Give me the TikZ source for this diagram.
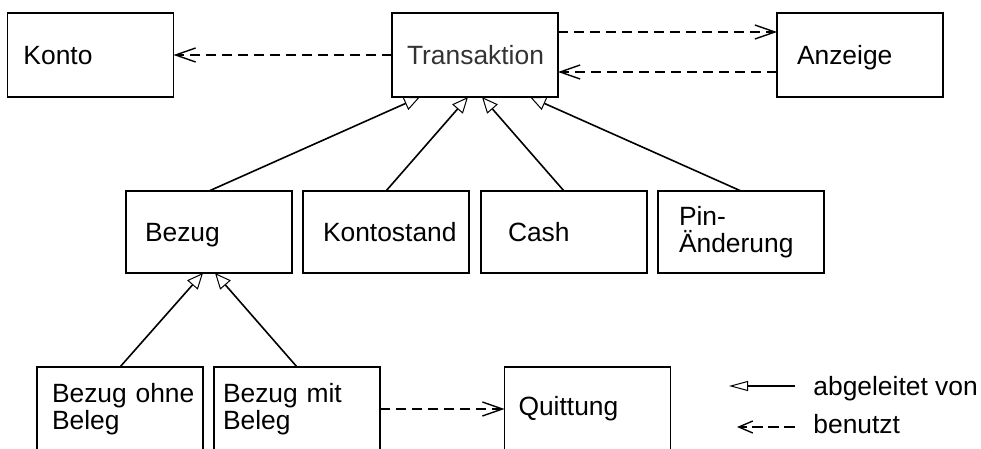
\documentclass[tikz,border=0pt]{standalone}
\usepackage{fontspec}
\setmainfont{Liberation Sans}
\usetikzlibrary{arrows.meta,calc}
\begin{document}
\begin{tikzpicture}[x=0.5pt,y=-0.5pt,
  box/.style={draw,line width=0.85pt,minimum width=83pt,minimum height=42pt,
    text width=83pt,inner xsep=0pt,inner ysep=0pt,outer sep=0pt,align=left,
    font=\fontsize{13.2}{13.5}\selectfont},
  onebox/.style={box,text depth=0pt},
  midbox/.style={onebox,minimum height=41pt},
  gen/.style={line width=0.8pt,-{Triangle[fill=white,length=8pt,width=7pt,line width=0.5pt]}},
  uses/.style={line width=0.8pt,dash pattern=on 5pt off 3pt,-{Straight Barb[length=10pt,width=7pt,line width=0.7pt]}},
  legtext/.style={anchor=base west,inner sep=0pt,font=\fontsize{13.2}{13.5}\selectfont}
]
\useasboundingbox (0,0) rectangle (981,449);
% top row
\node[onebox] (konto) at (90.5,55) {\hspace*{8pt}Konto};
\node[onebox] (trans) at (475,55) {\hspace*{7.5pt}\textcolor{black!80}{Transaktion}};
\node[onebox] (anzeige) at (860,55) {\hspace*{10pt}Anzeige};
% middle row
\node[midbox] (bezug) at (209,232) {\hspace*{9.5pt}Bezug};
\node[midbox] (kstand) at (386,232) {\hspace*{10pt}Kontostand};
\node[midbox] (cash) at (564,232) {\hspace*{13.5pt}Cash};
\node[box,minimum height=41pt] (pin) at (741,232) {\hspace*{10.5pt}Pin-\\\hspace*{10.5pt}Änderung};
% bottom row
\node[box] (ohne) at (120,409) {\hspace*{7.5pt}Bezug ohne\\\hspace*{7.5pt}Beleg};
\node[box] (mit) at (297,409) {\hspace*{4.5pt}Bezug mit\\\hspace*{4.5pt}Beleg};
\node[box] (quitt) at (587.5,409) {\hspace*{7pt}Quittung};
% uses
\draw[uses] (trans.west) -- (konto.east);
\draw[uses] ($(trans.east)+(0,-23)$) -- ($(anzeige.west)+(0,-23)$);
\draw[uses] ($(anzeige.west)+(0,17)$) -- ($(trans.east)+(0,17)$);
\draw[uses] (mit.east) -- (quitt.west);
% generalisation
\draw[gen] (bezug.north) -- ($(trans.south)+(-55,0)$);
\draw[gen] (kstand.north) -- ($(trans.south)+(-7,0)$);
\draw[gen] (cash.north) -- ($(trans.south)+(7,0)$);
\draw[gen] (pin.north) -- ($(trans.south)+(55,0)$);
\draw[gen] (ohne.north) -- ($(bezug.south)+(-6,0)$);
\draw[gen] (mit.north) -- ($(bezug.south)+(6,0)$);
% legend
\coordinate (g1) at (795,386);
\coordinate (g2) at (729,386);
\coordinate (u1) at (795,427);
\coordinate (u2) at (737,427);
\draw[line width=0.8pt,-{Triangle[fill=white,length=9.5pt,width=5pt,line width=0.5pt]}] (g1) -- (g2);
\draw[line width=0.8pt,dash pattern=on 5.5pt off 2.5pt,-{Straight Barb[length=7pt,width=6pt,line width=0.7pt]}] (u1) -- (u2);
\node[legtext] (lg) at (813,395) {abgeleitet von};
\node[legtext] (lu) at (813,433) {benutzt};
\end{tikzpicture}
\end{document}
